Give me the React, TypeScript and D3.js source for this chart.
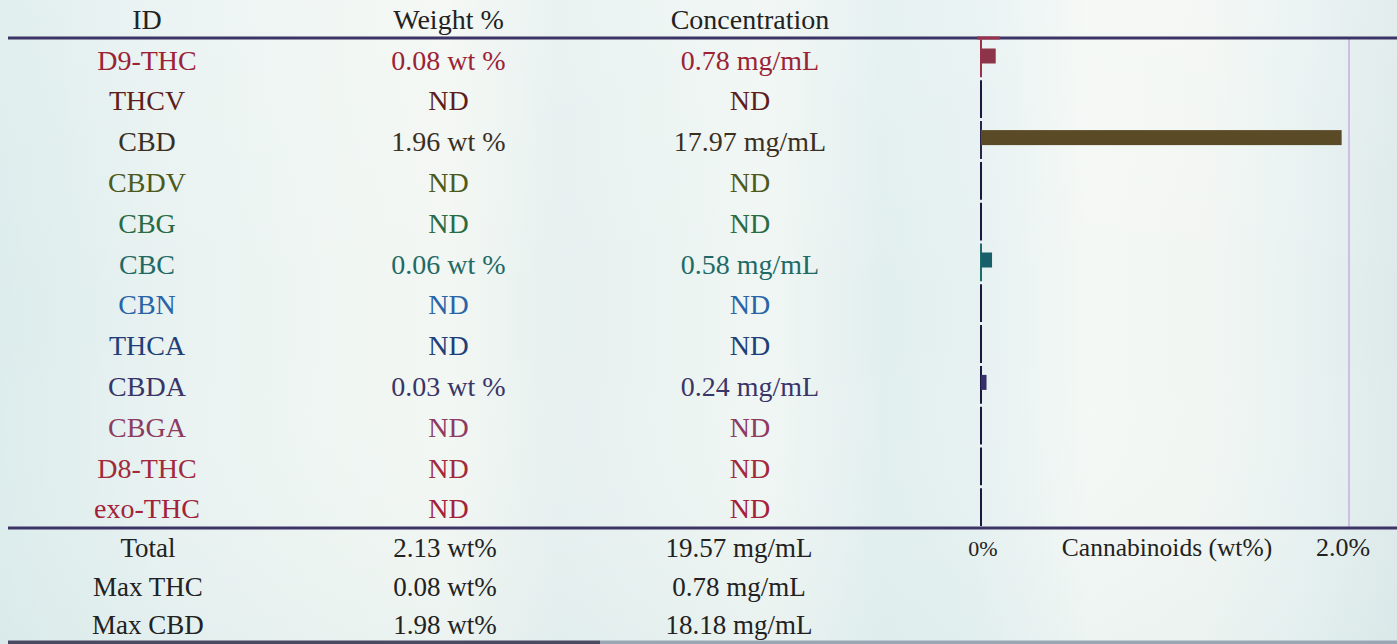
import React from "react";
import * as d3 from "d3";

const ids = ["D9-THC", "THCV", "CBD", "CBDV", "CBG", "CBC", "CBN", "THCA", "CBDA", "CBGA", "D8-THC", "exo-THC"];
const weightPct: (number | null)[] = [0.08, null, 1.96, null, null, 0.06, null, null, 0.03, null, null, null];
const concentration: (number | null)[] = [0.78, null, 17.97, null, null, 0.58, null, null, 0.24, null, null, null];
const textColors = ["#9b2335", "#5e1d1d", "#3b2f1f", "#4d5a1c", "#2a6b45", "#1f6a66", "#2a64a8", "#1e3f78", "#3a3568", "#8e3b62", "#a22a3a", "#a3223a"];
const barColors = ["#8c3448", "#5e1d1d", "#5a4a26", "#4d5a1c", "#2a6b45", "#17606a", "#2a64a8", "#1e3f78", "#35306a", "#8e3b62", "#a22a3a", "#a3223a"];
const segColors = ["#9b3048", "#1c1640", "#2a2648", "#1c1640", "#1c1640", "#1f6a6a", "#1c1640", "#1c1640", "#1c1640", "#1c1640", "#1c1640", "#1c1640"];

const summaryLabels = ["Total", "Max THC", "Max CBD"];
const summaryWeight = ["2.13 wt%", "0.08 wt%", "1.98 wt%"];
const summaryConc = ["19.57 mg/mL", "0.78 mg/mL", "18.18 mg/mL"];

const headers = ["ID", "Weight %", "Concentration"];
const axisTicks = [0, 2.0];
const axisTickLabels = ["0%", "2.0%"];
const axisTitle = "Cannabinoids (wt%)";

const W = 1397;
const H = 644;
const FONT = "'Liberation Serif', 'Times New Roman', serif";

export default function App() {
  const y = d3.scaleBand<string>().domain(ids).range([38, 527.6]).padding(0);
  const x = d3.scaleLinear().domain([0, 2.0]).range([981, 1349]);
  const colX = d3.scalePoint<string>().domain(headers).range([147, 750]);
  const sumColX = d3.scaleOrdinal<string, number>().domain(headers).range([148, 445, 739]);
  const sumY = d3.scalePoint<string>().domain(summaryLabels).range([557, 634]);
  const bw = y.bandwidth();

  const bgStops = [
    [0, "#dcecec"], [0.12, "#e8f2f1"], [0.22, "#eef5f2"], [0.32, "#f3f7f3"], [0.4, "#e6f0ef"],
    [0.47, "#eaf3f1"], [0.55, "#f0f6f3"], [0.63, "#e2efef"], [0.7, "#e6f1f1"], [0.78, "#f4f8f5"],
    [0.86, "#f2f6f3"], [0.93, "#e8f2f1"], [1, "#dde9ea"],
  ];

  return (
    <svg width={W} height={H} style={{ position: "absolute", left: 0, top: 0, display: "block" }} fontFamily={FONT}>
      <defs>
        <linearGradient id="bg" x1="0" x2="1" y1="0" y2="0">
          {bgStops.map(([o, c], i) => (
            <stop key={i} offset={o as number} stopColor={c as string} />
          ))}
        </linearGradient>
        <linearGradient id="bgv" x1="0" x2="0" y1="0" y2="1">
          <stop offset="0" stopColor="#ffffff" stopOpacity={0.15} />
          <stop offset="0.5" stopColor="#ffffff" stopOpacity={0} />
          <stop offset="1" stopColor="#cfe3e3" stopOpacity={0.2} />
        </linearGradient>
      </defs>
      <rect x={0} y={0} width={W} height={H} fill="url(#bg)" />
      <rect x={0} y={0} width={W} height={H} fill="url(#bgv)" />

      {/* headers */}
      {headers.map((h) => (
        <text key={h} x={colX(h)} y={29} textAnchor="middle" fontSize={28} fill="#222">
          {h}
        </text>
      ))}

      {/* 2.0% gridline */}
      <line x1={x(2.0)} x2={x(2.0)} y1={38} y2={528} stroke="#cdbfe4" strokeWidth={2} />

      {/* rows */}
      {ids.map((id, i) => {
        const top = y(id)!;
        const base = top + 31.5;
        const w = weightPct[i];
        const c = concentration[i];
        return (
          <g key={id}>
            <text x={colX("ID")} y={base} textAnchor="middle" fontSize={28} fill={textColors[i]}>
              {id}
            </text>
            <text x={colX("Weight %")} y={base} textAnchor="middle" fontSize={28} fill={textColors[i]}>
              {w === null ? "ND" : `${w.toFixed(2)} wt %`}
            </text>
            <text x={colX("Concentration")} y={base} textAnchor="middle" fontSize={28} fill={textColors[i]}>
              {c === null ? "ND" : `${c.toFixed(2)} mg/mL`}
            </text>
            <line x1={x(0)} x2={x(0)} y1={top + 1.5} y2={top + bw - 1.5} stroke={segColors[i]} strokeWidth={2} />
            {w !== null && (
              <rect x={x(0)} y={top + 10.5} width={x(w) - x(0)} height={15} fill={barColors[i]} />
            )}
          </g>
        );
      })}

      {/* header / footer rules */}
      <rect x={8} y={36.5} width={W - 8} height={3} fill="#3d3466" />
      <rect x={x(0) - 4} y={36.5} width={23} height={3} fill="#9b3048" />
      <rect x={8} y={526.5} width={W - 8} height={3} fill="#3d3466" />
      <rect x={8} y={640.5} width={592} height={3.5} fill="#4a4a62" />
      <rect x={600} y={640.5} width={W - 600} height={3.5} fill="#9aa6b4" />

      {/* summary */}
      {summaryLabels.map((s, i) => (
        <g key={s}>
          <text x={sumColX("ID")} y={sumY(s)} textAnchor="middle" fontSize={27} fill="#222">
            {s}
          </text>
          <text x={sumColX("Weight %")} y={sumY(s)} textAnchor="middle" fontSize={27} fill="#222">
            {summaryWeight[i]}
          </text>
          <text x={sumColX("Concentration")} y={sumY(s)} textAnchor="middle" fontSize={27} fill="#222">
            {summaryConc[i]}
          </text>
        </g>
      ))}

      {/* axis labels */}
      {axisTicks.map((t, i) => (
        <text key={t} x={x(t) + (i === 0 ? 2 : -6)} y={556} textAnchor="middle" fontSize={i === 0 ? 22 : 26} fill="#222">
          {axisTickLabels[i]}
        </text>
      ))}
      <text x={1167} y={556} textAnchor="middle" fontSize={25.5} fill="#222">
        {axisTitle}
      </text>
    </svg>
  );
}
